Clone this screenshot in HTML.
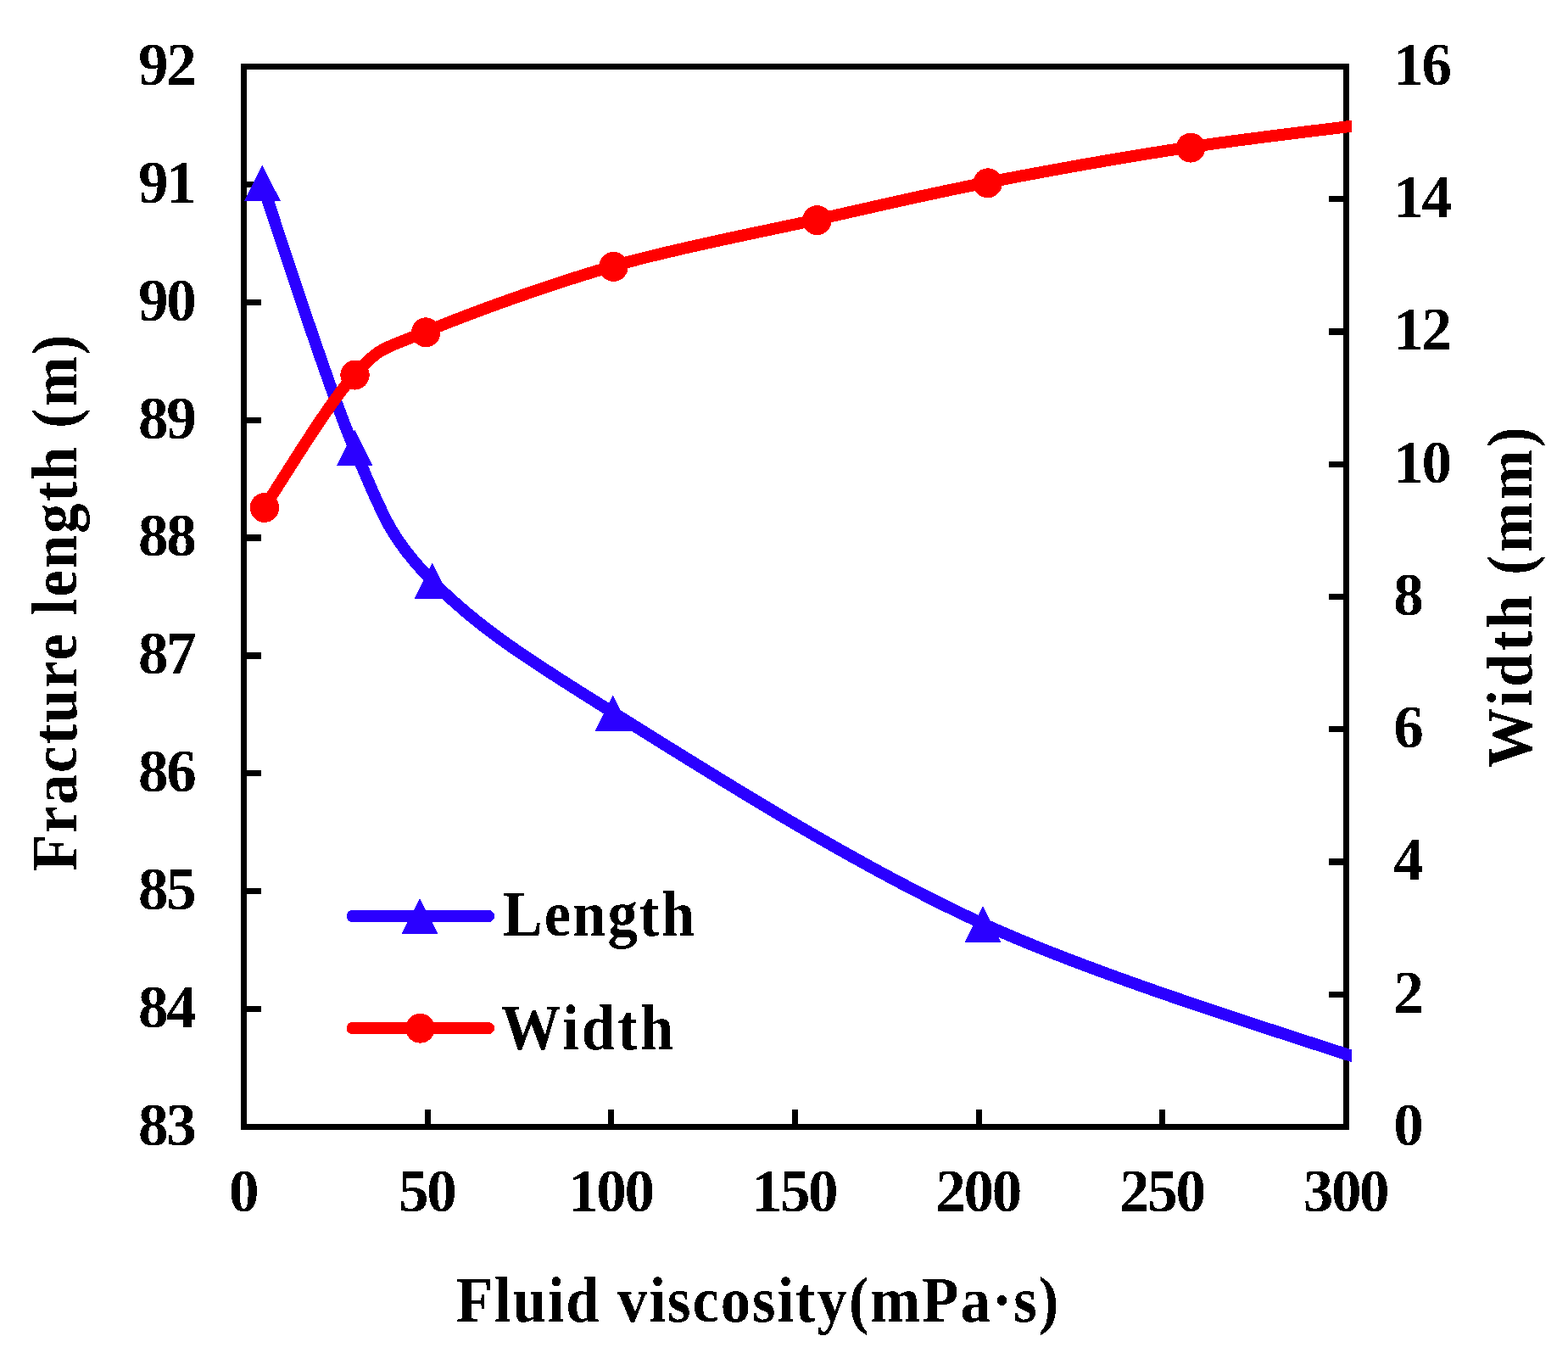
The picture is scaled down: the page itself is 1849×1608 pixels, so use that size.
<!DOCTYPE html>
<html lang="en"><head><meta charset="utf-8"><title>Fracture length and width vs fluid viscosity</title>
<style>
html,body{margin:0;padding:0;background:#fff;}
body{width:1849px;height:1608px;overflow:hidden;}
svg{display:block;}
text{font-family:"Liberation Serif","DejaVu Serif",serif;font-weight:bold;fill:#000;}
.tk{font-size:71.0px;letter-spacing:-2.3px;}
.tt{font-size:76.9px;}
</style></head><body>
<svg width="1849" height="1608" viewBox="0 0 1849 1608">
<defs><clipPath id="plot"><rect x="270" y="60" width="1324" height="1290"/></clipPath>
<filter id="bw" filterUnits="userSpaceOnUse" x="0" y="0" width="1849" height="1608" color-interpolation-filters="sRGB"><feComponentTransfer><feFuncA type="discrete" tableValues="0 1"/></feComponentTransfer></filter></defs>
<rect x="0" y="0" width="1849" height="1608" fill="#fff"/>
<g id="axes" fill="#000" shape-rendering="crispEdges">
<rect x="284" y="75" width="7" height="1257"/>
<rect x="1584" y="75" width="7" height="1257"/>
<rect x="284" y="75" width="1307" height="7"/>
<rect x="284" y="1325" width="1307" height="7"/>
<rect x="291.00" y="1185.96" width="17.00" height="7.30"/>
<rect x="291.00" y="1047.07" width="17.00" height="7.30"/>
<rect x="291.00" y="908.18" width="17.00" height="7.30"/>
<rect x="291.00" y="769.29" width="17.00" height="7.30"/>
<rect x="291.00" y="630.41" width="17.00" height="7.30"/>
<rect x="291.00" y="491.52" width="17.00" height="7.30"/>
<rect x="291.00" y="352.63" width="17.00" height="7.30"/>
<rect x="291.00" y="213.74" width="17.00" height="7.30"/>
<rect x="1567.00" y="1168.60" width="17.00" height="7.30"/>
<rect x="1567.00" y="1012.35" width="17.00" height="7.30"/>
<rect x="1567.00" y="856.10" width="17.00" height="7.30"/>
<rect x="1567.00" y="699.85" width="17.00" height="7.30"/>
<rect x="1567.00" y="543.60" width="17.00" height="7.30"/>
<rect x="1567.00" y="387.35" width="17.00" height="7.30"/>
<rect x="1567.00" y="231.10" width="17.00" height="7.30"/>
<rect x="500.52" y="1308.00" width="7.30" height="17.00"/>
<rect x="717.18" y="1308.00" width="7.30" height="17.00"/>
<rect x="933.85" y="1308.00" width="7.30" height="17.00"/>
<rect x="1150.52" y="1308.00" width="7.30" height="17.00"/>
<rect x="1367.18" y="1308.00" width="7.30" height="17.00"/>
</g>
<g id="ticklabels" class="tk" filter="url(#bw)">
<text id="yl83" x="229.50" y="1349.85" text-anchor="end">83</text>
<text id="yl84" x="229.50" y="1210.96" text-anchor="end">84</text>
<text id="yl85" x="229.50" y="1072.07" text-anchor="end">85</text>
<text id="yl86" x="229.50" y="933.18" text-anchor="end">86</text>
<text id="yl87" x="229.50" y="794.29" text-anchor="end">87</text>
<text id="yl88" x="229.50" y="655.41" text-anchor="end">88</text>
<text id="yl89" x="229.50" y="516.52" text-anchor="end">89</text>
<text id="yl90" x="229.50" y="377.63" text-anchor="end">90</text>
<text id="yl91" x="229.50" y="238.74" text-anchor="end">91</text>
<text id="yl92" x="229.50" y="99.85" text-anchor="end">92</text>
<text id="yr0" x="1643.27" y="1349.75">0</text>
<text id="yr2" x="1643.27" y="1193.50">2</text>
<text id="yr4" x="1643.27" y="1037.25">4</text>
<text id="yr6" x="1643.27" y="881.00">6</text>
<text id="yr8" x="1643.27" y="724.75">8</text>
<text id="yr10" x="1643.27" y="568.50">10</text>
<text id="yr12" x="1643.27" y="412.25">12</text>
<text id="yr14" x="1643.27" y="256.00">14</text>
<text id="yr16" x="1643.27" y="99.75">16</text>
<text id="xl0" x="286.50" y="1427.65" text-anchor="middle">0</text>
<text id="xl50" x="503.17" y="1427.65" text-anchor="middle">50</text>
<text id="xl100" x="719.83" y="1427.65" text-anchor="middle">100</text>
<text id="xl150" x="936.50" y="1427.65" text-anchor="middle">150</text>
<text id="xl200" x="1153.17" y="1427.65" text-anchor="middle">200</text>
<text id="xl250" x="1369.83" y="1427.65" text-anchor="middle">250</text>
<text id="xl300" x="1586.50" y="1427.65" text-anchor="middle">300</text>
</g>
<g id="titles" class="tt" filter="url(#bw)">
<text id="xt" transform="translate(537.65,1558.00) scale(0.92,1)" textLength="772.35" lengthAdjust="spacing">Fluid viscosity(mPa·s)</text>
<text id="lt" transform="translate(90.00,1027.20) rotate(-90) scale(0.92,1)" textLength="687.45" lengthAdjust="spacing">Fracture length (m)</text>
<text id="rt" transform="translate(1806.00,905.15) rotate(-90) scale(0.92,1)" textLength="436.37" lengthAdjust="spacing">Width (mm)</text>
<text id="lg1" transform="translate(592.55,1103.10) scale(0.92,1)" textLength="246.14" lengthAdjust="spacing">Length</text>
<text id="lg2" transform="translate(590.50,1236.75) scale(0.92,1)" textLength="221.31" lengthAdjust="spacing">Width</text>
</g>
<g id="series" clip-path="url(#plot)" shape-rendering="crispEdges">
<path d="M308.85,215.75 C326.93,267.72 383.92,449.41 417.34,527.55 C450.76,605.69 458.42,632.52 509.35,684.60 C560.28,736.68 614.62,772.61 722.90,840.00 C831.17,907.39 1004.48,1018.33 1159.00,1088.95 C1313.52,1159.57 1568.17,1234.58 1650.00,1263.70" fill="none" stroke="#2b00ff" stroke-width="14.0" stroke-linecap="round" stroke-linejoin="round"/>
<polygon points="309.30,194.30 330.80,237.00 287.80,237.00" fill="#2b00ff"/>
<polygon points="418.20,506.50 439.70,549.20 396.70,549.20" fill="#2b00ff"/>
<polygon points="509.80,663.40 531.30,706.10 488.30,706.10" fill="#2b00ff"/>
<polygon points="722.90,819.40 744.40,862.10 701.40,862.10" fill="#2b00ff"/>
<polygon points="1159.00,1068.35 1180.50,1111.05 1137.50,1111.05" fill="#2b00ff"/>
<path d="M311.90,597.60 C329.67,571.55 386.78,475.73 418.50,441.30 C450.22,406.87 451.37,412.28 502.20,391.00 C553.03,369.72 646.62,335.63 723.50,313.60 C800.38,291.57 889.97,275.23 963.50,258.80 C1037.03,242.37 1091.25,229.25 1164.70,215.00 C1238.15,200.75 1323.32,185.47 1404.20,173.30 C1485.08,161.13 1609.03,147.22 1650.00,142.00" fill="none" stroke="#ff0000" stroke-width="14.0" stroke-linecap="round" stroke-linejoin="round"/>
<ellipse cx="311.90" cy="598.40" rx="17.20" ry="17.50" fill="#ff0000"/>
<ellipse cx="418.50" cy="442.10" rx="17.20" ry="17.50" fill="#ff0000"/>
<ellipse cx="502.20" cy="391.80" rx="17.20" ry="17.50" fill="#ff0000"/>
<ellipse cx="723.50" cy="314.40" rx="17.20" ry="17.50" fill="#ff0000"/>
<ellipse cx="963.50" cy="259.60" rx="17.20" ry="17.50" fill="#ff0000"/>
<ellipse cx="1164.70" cy="215.80" rx="17.20" ry="17.50" fill="#ff0000"/>
<ellipse cx="1404.20" cy="174.10" rx="17.20" ry="17.50" fill="#ff0000"/>
</g>
<g id="legend" shape-rendering="crispEdges">
<line x1="415.5" y1="1080" x2="576" y2="1080" stroke="#2b00ff" stroke-width="14" stroke-linecap="round"/>
<polygon points="495.00,1058.70 516.50,1101.40 473.50,1101.40" fill="#2b00ff"/>
<line x1="415.5" y1="1212.1" x2="576" y2="1212.1" stroke="#ff0000" stroke-width="14" stroke-linecap="round"/>
<ellipse cx="495.50" cy="1212.20" rx="17.20" ry="17.50" fill="#ff0000"/>
</g>
</svg></body></html>
